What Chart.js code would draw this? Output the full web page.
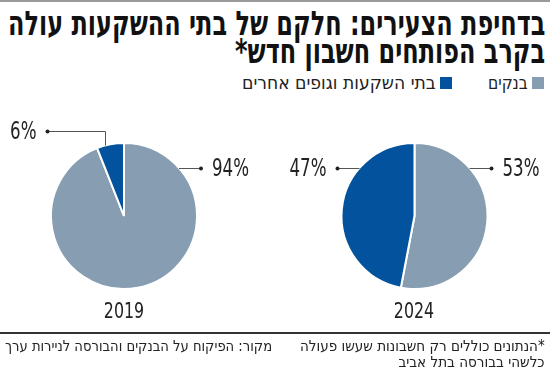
<!DOCTYPE html>
<html lang="he">
<head>
  <meta charset="UTF-8" />
  <title>בדחיפת הצעירים</title>
  <script src="https://cdn.jsdelivr.net/npm/chart.js"></script>
  <style>
    body { margin: 0; width: 550px; height: 370px; position: relative; background: #fff; overflow: hidden;
      font-family: "DejaVu Sans Condensed", sans-serif; font-stretch: condensed; color: #222; }
    .topline { position: absolute; left: 0; top: 0; width: 550px; height: 2px; background: #9a9a9a; }
    .fit { position: absolute; white-space: nowrap; direction: rtl; transform-origin: 100% 50%; }
    .title { font-weight: bold; font-size: 34px; line-height: 34px; color: #111; }
    .leg { font-size: 18px; line-height: 18px; }
    .sw { position: absolute; width: 12px; height: 12px; top: 77px; }
    .pie { position: absolute; top: 112px; width: 275px; height: 198px; }
    .year { position: absolute; top: 298px; width: 100px; text-align: center; font-size: 22px; transform: scaleX(0.8); }
    .footline { position: absolute; left: 0; top: 332px; width: 550px; height: 2px; background: #333; }
    .foot { font-size: 15px; line-height: 16px; }
  </style>
</head>
<body>
  <div class="topline"></div>
  <div class="fit title" id="t1" style="right:5px; top:6px" data-w="537"></div>
  <div class="fit title" id="t2" style="right:5px; top:34px" data-ref="t1"></div>

  <div class="sw" id="sw0" style="left:532px"></div>
  <div class="fit leg" id="l0" style="right:22px; top:74px" data-w="40"></div>
  <div class="sw" id="sw1" style="left:440px"></div>
  <div class="fit leg" id="l1" style="right:114px; top:74px" data-w="194"></div>

  <div class="pie" style="left:0"><canvas id="pie2019"></canvas></div>
  <div class="pie" style="left:275px"><canvas id="pie2024"></canvas></div>
  <div class="year" id="y1" style="left:74px"></div>
  <div class="year" id="y2" style="left:364px"></div>

  <div class="footline"></div>
  <div class="fit foot" id="n1" style="right:5px; top:338px" data-w="245">*הנתונים כוללים רק חשבונות שעשו פעולה</div>
  <div class="fit foot" id="n2" style="right:5px; top:354px" data-ref="n1">כלשהי בבורסה בתל אביב</div>
  <div class="fit foot" id="s1" style="right:278px; top:338px" data-w="267">מקור: הפיקוח על הבנקים והבורסה לניירות ערך</div>

  <script>
    const categories = ['בנקים', 'בתי השקעות וגופים אחרים'];
    const years = ['2019', '2024'];
    const values2019 = [94, 6];
    const values2024 = [53, 47];
    const colors = ['#879db2', '#03529e'];
    const titleLines = ['בדחיפת הצעירים: חלקם של בתי ההשקעות עולה', 'בקרב הפותחים חשבון חדש*'];

    document.getElementById('t1').textContent = titleLines[0];
    document.getElementById('t2').textContent = titleLines[1];
    document.getElementById('l0').textContent = categories[0];
    document.getElementById('l1').textContent = categories[1];
    document.getElementById('sw0').style.background = colors[0];
    document.getElementById('sw1').style.background = colors[1];
    document.getElementById('y1').textContent = years[0];
    document.getElementById('y2').textContent = years[1];

    // squeeze text horizontally to the widths of the original
    const scales = {};
    document.querySelectorAll('.fit[data-w]').forEach(el => {
      const s = +el.dataset.w / el.offsetWidth;
      scales[el.id] = s;
      el.style.transform = `scaleX(${s})`;
    });
    document.querySelectorAll('.fit[data-ref]').forEach(el => {
      el.style.transform = `scaleX(${scales[el.dataset.ref]})`;
    });

    // leader lines + percent labels
    const leaders = {
      id: 'leaders',
      afterDatasetsDraw(chart, args, opts) {
        const ctx = chart.ctx;
        const meta = chart.getDatasetMeta(0);
        const data = chart.data.datasets[0].data;
        ctx.save();
        ctx.strokeStyle = '#555';
        ctx.fillStyle = '#222';
        ctx.lineWidth = 1;
        ctx.font = '25px "DejaVu Sans Condensed", sans-serif';
        ctx.textBaseline = 'middle';
        (opts.items || []).forEach(it => {
          const arc = meta.data[it.index];
          const cx = arc.x, cy = arc.y, r = arc.outerRadius;
          const txt = data[it.index] + '%';
          let dotX, dotY;
          ctx.beginPath();
          if (it.elbow) {
            const a = arc.startAngle + (arc.endAngle - arc.startAngle) * it.frac;
            const px = Math.round(cx + r * Math.cos(a)) + 0.5, py = cy + r * Math.sin(a);
            dotY = Math.round(cy + it.y) + 0.5;
            dotX = px + it.side * it.len;
            ctx.moveTo(px, py);
            ctx.lineTo(px, dotY);
            ctx.lineTo(dotX, dotY);
          } else {
            dotY = Math.round(cy + it.y) + 0.5;
            const ex = cx + it.side * Math.sqrt(r * r - it.y * it.y);
            dotX = ex + it.side * it.len;
            ctx.moveTo(ex, dotY);
            ctx.lineTo(dotX, dotY);
          }
          ctx.stroke();
          ctx.beginPath();
          ctx.arc(dotX, dotY, 2, 0, Math.PI * 2);
          ctx.fill();
          ctx.save();
          ctx.translate(dotX + it.side * 11, dotY + 1);
          ctx.scale(0.74, 1);
          ctx.textAlign = it.side > 0 ? 'left' : 'right';
          ctx.fillText(txt, 0, 0);
          ctx.restore();
        });
        ctx.restore();
      }
    };

    function makePie(id, values, padding, items) {
      return new Chart(document.getElementById(id), {
        type: 'pie',
        data: {
          labels: categories,
          datasets: [{ data: values, backgroundColor: colors, borderColor: '#fff', borderWidth: 2 }]
        },
        options: {
          responsive: true,
          maintainAspectRatio: false,
          animation: false,
          radius: 73,
          layout: { padding: padding },
          plugins: { legend: { display: false }, tooltip: { enabled: false }, leaders: { items: items } }
        },
        plugins: [leaders]
      });
    }

    makePie('pie2019', values2019, { top: 31, bottom: 21, left: 51, right: 78 }, [
      { index: 0, y: -48, side: 1, len: 22 },
      { index: 1, elbow: true, frac: 0.3, y: -85, side: -1, len: 58 }
    ]);
    makePie('pie2024', values2024, { top: 31, bottom: 21, left: 67, right: 63 }, [
      { index: 0, y: -48, side: 1, len: 22 },
      { index: 1, y: -48, side: -1, len: 22 }
    ]);
  </script>
</body>
</html>
